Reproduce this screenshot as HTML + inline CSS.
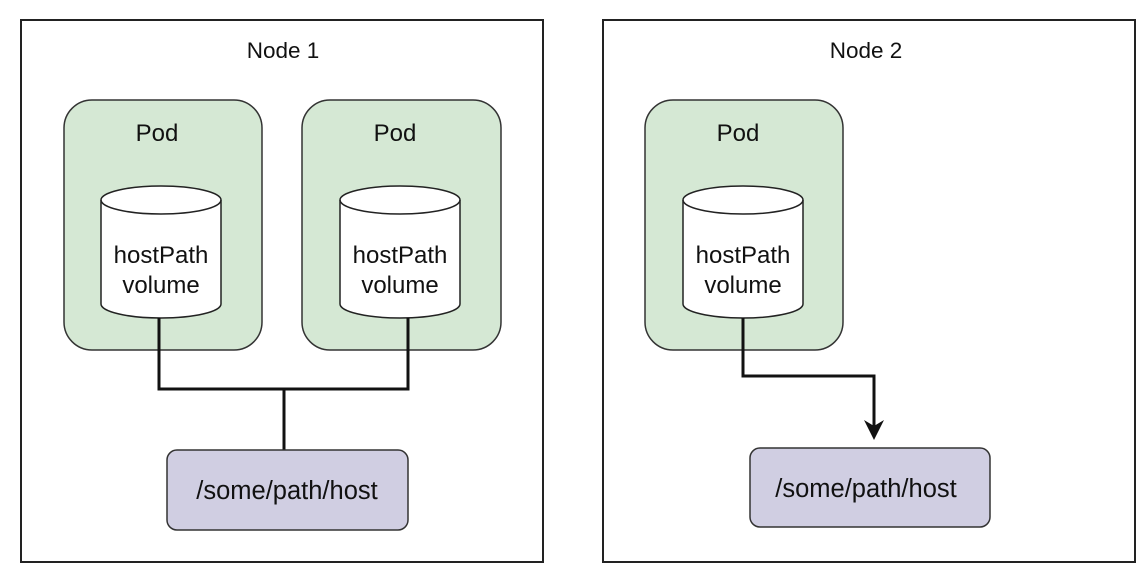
<!DOCTYPE html>
<html><head><style>
html,body{margin:0;padding:0;background:#fff;}
svg{display:block;}
text{font-family:"Liberation Sans",sans-serif;fill:#111;}
</style></head><body>
<svg width="1144" height="582" viewBox="0 0 1144 582" xmlns="http://www.w3.org/2000/svg">
<rect x="21" y="20" width="522" height="542" fill="#fff" stroke="#222" stroke-width="2"/>
<rect x="603" y="20" width="532" height="542" fill="#fff" stroke="#222" stroke-width="2"/>
<text x="283" y="58" font-size="22.5" text-anchor="middle">Node 1</text>
<text x="866" y="58" font-size="22.5" text-anchor="middle">Node 2</text>

<rect x="64" y="100" width="198" height="250" rx="28" fill="#d5e8d4" stroke="#333" stroke-width="1.5"/>
<rect x="302" y="100" width="199" height="250" rx="28" fill="#d5e8d4" stroke="#333" stroke-width="1.5"/>
<rect x="645" y="100" width="198" height="250" rx="28" fill="#d5e8d4" stroke="#333" stroke-width="1.5"/>
<text x="157" y="141" font-size="24" text-anchor="middle">Pod</text>
<text x="395" y="141" font-size="24" text-anchor="middle">Pod</text>
<text x="738" y="141" font-size="24" text-anchor="middle">Pod</text>

<g stroke="#222" stroke-width="1.5" fill="#fff">
<path d="M101 200 V304 A60 14 0 0 0 221 304 V200 A60 14 0 0 0 101 200 Z"/>
<path d="M101 200 A60 14 0 0 0 221 200" fill="none"/>
<path d="M340 200 V304 A60 14 0 0 0 460 304 V200 A60 14 0 0 0 340 200 Z"/>
<path d="M340 200 A60 14 0 0 0 460 200" fill="none"/>
<path d="M683 200 V304 A60 14 0 0 0 803 304 V200 A60 14 0 0 0 683 200 Z"/>
<path d="M683 200 A60 14 0 0 0 803 200" fill="none"/>
</g>
<g font-size="24" text-anchor="middle">
<text x="161" y="263">hostPath</text><text x="161" y="293">volume</text>
<text x="400" y="263">hostPath</text><text x="400" y="293">volume</text>
<text x="743" y="263">hostPath</text><text x="743" y="293">volume</text>
</g>

<g stroke="#111" stroke-width="3" fill="none">
<path d="M159 318 V389 H408 V318"/>
<path d="M284 389 V450"/>
<path d="M743 318 V376 H874 V428"/>
</g>
<path d="M864 420 L874 440 L884 420 L874 426 Z" fill="#111"/>

<rect x="167" y="450" width="241" height="80" rx="10" fill="#d0cee2" stroke="#333" stroke-width="1.5"/>
<rect x="750" y="448" width="240" height="79" rx="10" fill="#d0cee2" stroke="#333" stroke-width="1.5"/>
<text x="287" y="499" font-size="25.5" text-anchor="middle">/some/path/host</text>
<text x="866" y="497" font-size="25.5" text-anchor="middle">/some/path/host</text>
</svg>
</body></html>
